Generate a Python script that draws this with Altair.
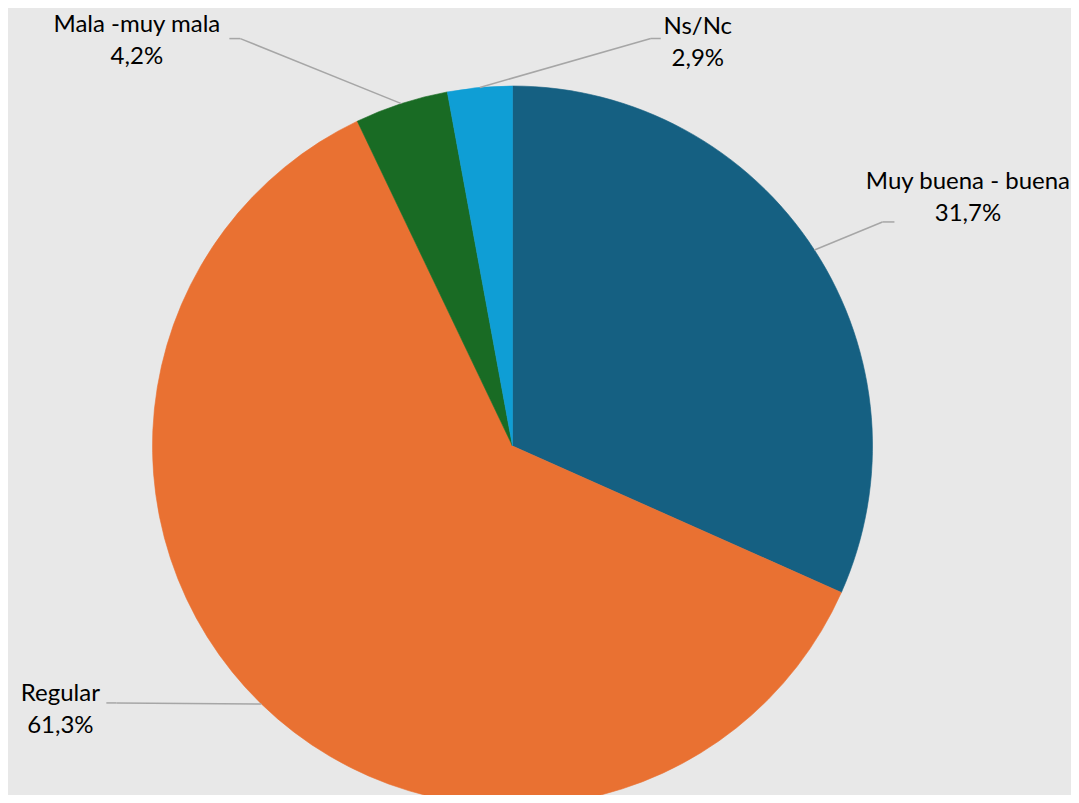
import altair as alt
import pandas as pd

# ---- data ----
categories = ["Muy buena - buena", "Regular", "Mala -muy mala", "Ns/Nc"]
values = [31.7, 61.3, 4.2, 2.9]

# ---- style / layout (pixels) ----
colors = ["#156082", "#E97132", "#196B24", "#0F9ED5"]
W, H = 1063, 787
CX, CY, R = 504.5, 438, 360
elbow_dx = [68, -145, -161, 171]
elbow_dy = [-28, -1, -65, -49]
tail_len = [12, -10, -11, 10]
text_dx = [73.5, -46, -92.5, 37]
text_dy = [-40, -9, -14, -11]
LINE_GAP = 32
FONT = "Lato"
FONT_SIZE = 24

df = pd.DataFrame({
    "category": categories,
    "value": values,
    "idx": list(range(len(categories))),
    "edx": elbow_dx,
    "edy": elbow_dy,
    "tail": tail_len,
    "tdx": text_dx,
    "tdy": text_dy,
})

xs = alt.Scale(domain=[0, W], range=[0, W], nice=False, zero=False)
ys = alt.Scale(domain=[0, H], range=[0, H], nice=False, zero=False)
cscale = alt.Scale(domain=categories, range=colors)

pie = alt.Chart(df).mark_arc(radius=R, strokeWidth=0.6).encode(
    theta=alt.Theta("value:Q", stack=True),
    order=alt.Order("idx:Q"),
    color=alt.Color("category:N", scale=cscale, legend=None),
    stroke=alt.Stroke("category:N", scale=cscale, legend=None),
    x=alt.value(CX),
    y=alt.value(CY),
)

base = alt.Chart(df).transform_window(
    cum="sum(value)", sort=[alt.SortField("idx")], frame=[None, 0]
).transform_joinaggregate(
    total="sum(value)"
).transform_calculate(
    mid="(datum.cum - datum.value / 2) / datum.total * 2 * PI"
).transform_calculate(
    ex=f"{CX} + {R} * sin(datum.mid)",
    ey=f"{CY} - {R} * cos(datum.mid)",
).transform_calculate(
    bx="datum.ex + datum.edx",
    by="datum.ey + datum.edy",
).transform_calculate(
    tx="datum.bx + datum.tail",
    lx="datum.bx + datum.tail + datum.tdx",
    ly1="datum.by + datum.tdy",
    ly2=f"datum.by + datum.tdy + {LINE_GAP}",
    pct="replace(format(datum.value, '.1f'), '.', ',') + '%'",
)

leader1 = base.mark_rule(color="#A6A6A6", strokeWidth=1.5).encode(
    x=alt.X("ex:Q", scale=xs, axis=None),
    y=alt.Y("ey:Q", scale=ys, axis=None),
    x2="bx:Q",
    y2="by:Q",
)
leader2 = base.mark_rule(color="#A6A6A6", strokeWidth=1.5).encode(
    x=alt.X("bx:Q", scale=xs, axis=None),
    y=alt.Y("by:Q", scale=ys, axis=None),
    x2="tx:Q",
    y2="by:Q",
)

name_text = base.mark_text(font=FONT, fontSize=FONT_SIZE, color="#000000",
                           align="center", baseline="middle").encode(
    x=alt.X("lx:Q", scale=xs, axis=None),
    y=alt.Y("ly1:Q", scale=ys, axis=None),
    text="category:N",
)
pct_text = base.mark_text(font=FONT, fontSize=FONT_SIZE, color="#000000",
                          align="center", baseline="middle").encode(
    x=alt.X("lx:Q", scale=xs, axis=None),
    y=alt.Y("ly2:Q", scale=ys, axis=None),
    text="pct:N",
)

chart = alt.layer(pie, leader1, leader2, name_text, pct_text).properties(
    width=W, height=H,
    autosize=alt.AutoSizeParams(type="none"),
    padding=0,
).configure(background="#E8E8E8").configure_view(stroke=None)

chart.save("out.html", embed_options={"renderer": "svg", "actions": False})
